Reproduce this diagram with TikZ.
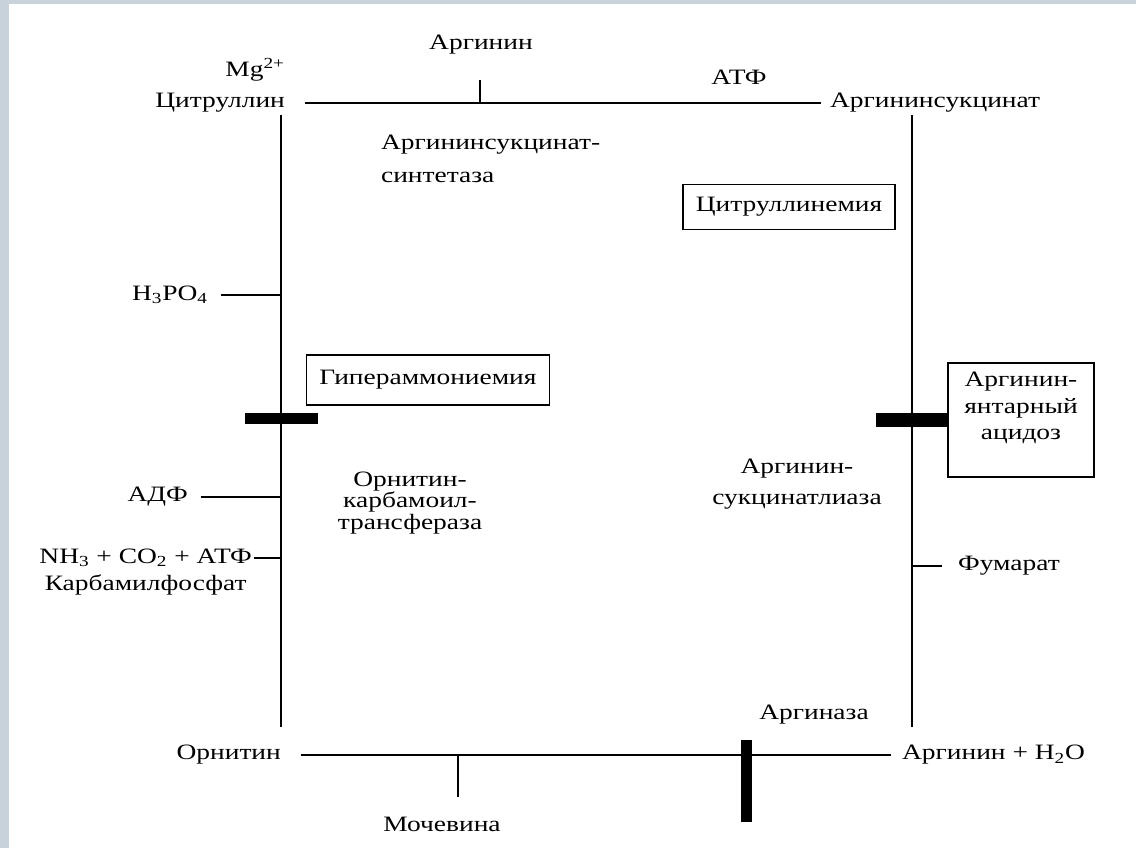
\documentclass[tikz,border=0pt]{standalone}
\usepackage{fontspec}
\setmainfont{Liberation Serif}[FakeStretch=1.25]
\usetikzlibrary{positioning}
\definecolor{framegrey}{RGB}{200,210,218}

\begin{document}
\begin{tikzpicture}[x=0.02cm, y=-0.02cm,
    lbl/.style={inner sep=1pt, font=\fontsize{12.5}{14}\selectfont},
    sickbox/.style={draw, line width=0.9pt, inner sep=2pt, align=center,
                    font=\fontsize{12.5}{14}\selectfont},
    cycle/.style={line width=1pt},
    branch/.style={line width=0.7pt},
    block/.style={fill=black}
  ]
    % frame
    \fill[framegrey] (0,0) rectangle (1136,848);
    \fill[white] (9,4) rectangle (1136,848);
    \useasboundingbox (0,0) rectangle (1136,848);

    % corners of the cycle
    \node[lbl, anchor=east] (citr) at (287,103) {Цитруллин};
    \node[lbl, anchor=east] (mg) at (287,70) {Mg\textsuperscript{2+}};
    \node[lbl, anchor=west] (asuc) at (828,103) {Аргининсукцинат};
    \node[lbl, anchor=east] (orn) at (283,755) {Орнитин};
    \node[lbl, anchor=west] (argw) at (900,755) {Аргинин + H\textsubscript{2}O};
    \coordinate (lt) at (281,115);
    \coordinate (lb) at (281,727);
    \coordinate (rt) at (912,115);
    \coordinate (rb) at (912,727);

    % cycle lines
    \draw[cycle] ([xshift=10pt]citr.east) -- ([xshift=-4pt]asuc.west);
    \draw[cycle] (lt) -- (lb);
    \draw[cycle] (rt) -- (rb);
    \draw[cycle] ([xshift=10pt]orn.east) -- ([xshift=-5pt]argw.west);

    % top step
    \node[lbl] (argtop) at (481,45) {Аргинин};
    \coordinate (ttick) at (480,104);
    \draw[branch] (ttick) -- ++(0,-24);
    \node[lbl] (atp) at (739,77) {АТФ};
    \node[lbl, anchor=north west, align=left] (synt) at (379,133)
      {Аргининсукцинат-\\[5pt]синтетаза};
    \node[sickbox, minimum width=4.24cm, minimum height=0.9cm] (citdis)
      at (789,207) {Цитруллинемия};

    % left side
    \node[lbl, anchor=east] (pi) at (210,295) {H\textsubscript{3}PO\textsubscript{4}};
    \draw[branch] (pi.east) ++(6pt,0) -- (pi.east -| lt);
    \node[sickbox, minimum width=4.86cm, minimum height=1cm] (hyper)
      at (428,380) {Гипераммониемия};
    \fill[block] (245,413) rectangle (318,424);
    \node[lbl, anchor=east] (adp) at (190,497) {АДФ};
    \draw[branch] (adp.east) ++(6pt,0) -- (adp.east -| lt);
    \node[lbl, anchor=east] (nh3) at (254,558) {NH\textsubscript{3} + CO\textsubscript{2} + АТФ};
    \draw[branch] (nh3.east) -- (nh3.east -| lt);
    \node[lbl, below=2pt of nh3] (carb) {Карбамилфосфат};
    \node[lbl, align=center] (otc) at (410,503)
      {Орнитин-\\[-2pt]карбамоил-\\[-2pt]трансфераза};

    % right side
    \node[sickbox, minimum width=2.92cm, minimum height=2.28cm] (asdis)
      at (1021,420) {Аргинин-\\[1pt]янтарный\\[1pt]ацидоз\\[2pt]};
    \fill[block] (876,413) rectangle (948,427);
    \node[lbl, align=center] (asl) at (797,484) {Аргинин-\\[4pt]сукцинатлиаза};
    \node[lbl, anchor=west] (fum) at (956,566) {Фумарат};
    \draw[branch] (fum.west) ++(-8pt,0) -- (fum.west -| rt);

    % bottom
    \node[lbl] (argase) at (814,715) {Аргиназа};
    \fill[block] (741,740) rectangle (752,822);
    \coordinate (btick) at (458,755);
    \draw[branch] (btick) -- ++(0,42);
    \node[lbl] (urea) at (442,824) {Мочевина};
\end{tikzpicture}
\end{document}
